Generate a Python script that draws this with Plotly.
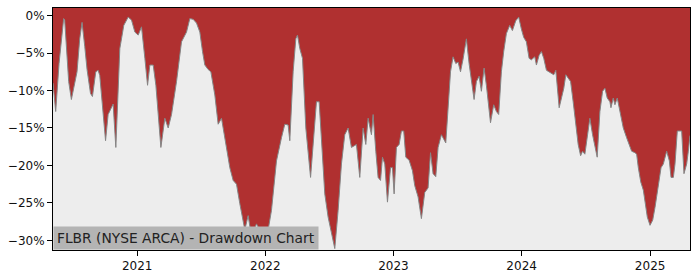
import pandas as pd
import plotly.graph_objects as go

# Decimal-year positions and drawdown values (%)
years = [
    2020.345, 2020.366, 2020.392, 2020.410, 2020.428, 2020.436, 2020.449, 2020.467, 2020.488, 2020.506,
    2020.532, 2020.553, 2020.571, 2020.592, 2020.610, 2020.637, 2020.652, 2020.678, 2020.696, 2020.709,
    2020.730, 2020.754, 2020.774, 2020.800, 2020.813, 2020.834, 2020.849, 2020.865, 2020.896, 2020.930,
    2020.956, 2020.982, 2021.008, 2021.034, 2021.060, 2021.081, 2021.099, 2021.125, 2021.146, 2021.177,
    2021.185, 2021.216, 2021.242, 2021.268, 2021.307, 2021.346, 2021.385, 2021.411, 2021.437, 2021.463,
    2021.489, 2021.510, 2021.528, 2021.554, 2021.575,
    2021.606, 2021.632, 2021.658, 2021.684, 2021.723, 2021.749, 2021.775, 2021.801, 2021.827, 2021.840,
    2021.866, 2021.892, 2021.931, 2021.970, 2021.996, 2022.022, 2022.048, 2022.087, 2022.126, 2022.152,
    2022.178, 2022.191, 2022.217, 2022.238, 2022.251, 2022.269, 2022.290, 2022.316, 2022.353, 2022.378,
    2022.399, 2022.420, 2022.438, 2022.464, 2022.490, 2022.524, 2022.542, 2022.568, 2022.594, 2022.620,
    2022.646, 2022.672, 2022.711, 2022.737, 2022.763, 2022.784, 2022.802, 2022.828, 2022.841,
    2022.862, 2022.880, 2022.899, 2022.914, 2022.932, 2022.953, 2022.977, 2022.992, 2023.005, 2023.023,
    2023.044, 2023.062, 2023.080, 2023.096, 2023.122, 2023.148, 2023.166, 2023.192, 2023.218, 2023.244,
    2023.270, 2023.289, 2023.309, 2023.330, 2023.348, 2023.374, 2023.408, 2023.426, 2023.445, 2023.465,
    2023.486, 2023.504, 2023.523, 2023.543, 2023.569, 2023.590, 2023.608, 2023.629, 2023.647, 2023.668,
    2023.686, 2023.707, 2023.725, 2023.738, 2023.757, 2023.782, 2023.803, 2023.821, 2023.842, 2023.860,
    2023.881, 2023.907, 2023.928, 2023.954, 2023.977, 2023.998, 2024.016, 2024.037, 2024.058, 2024.076,
    2024.102,
    2024.115, 2024.136, 2024.154, 2024.172, 2024.193, 2024.214, 2024.232, 2024.250, 2024.266, 2024.276,
    2024.292, 2024.310, 2024.328, 2024.344, 2024.362, 2024.381, 2024.401, 2024.422, 2024.440, 2024.459,
    2024.474, 2024.492, 2024.510, 2024.531, 2024.552, 2024.570, 2024.588, 2024.609, 2024.630, 2024.648,
    2024.666, 2024.687, 2024.695, 2024.713, 2024.726, 2024.744, 2024.765, 2024.791, 2024.817, 2024.838,
    2024.856, 2024.882, 2024.895, 2024.908, 2024.927, 2024.947, 2024.960, 2024.978, 2024.999, 2025.020,
    2025.038, 2025.064, 2025.085, 2025.103, 2025.129, 2025.150, 2025.163, 2025.181, 2025.194, 2025.212,
    2025.232, 2025.246, 2025.264, 2025.285, 2025.298, 2025.311,
]
drawdown = [
    -9.0, -12.8, -6.4, -3.1, -0.4, -0.6, -4.6, -8.8, -11.2, -9.5,
    -7.5, -3.1, -0.9, -4.1, -7.2, -10.4, -10.8, -7.5, -7.3, -8.0,
    -12.1, -16.7, -13.2, -12.3, -11.8, -17.6, -10.0, -4.4, -1.3, -0.2,
    -0.6, -2.2, -2.6, -1.5, -5.7, -9.3, -6.6, -6.6, -9.3, -15.9,
    -17.6, -13.7, -15.0, -13.2, -8.8, -3.5, -2.2, -0.4, -0.5, -1.0,
    -2.2, -4.8, -6.6, -7.2, -7.5,
    -10.6, -14.5, -13.7, -16.5, -20.3, -22.0, -22.5, -25.1, -27.3, -28.6,
    -26.7, -29.5, -27.8, -29.1, -30.6, -28.6, -26.0, -19.4, -16.3, -14.5,
    -14.6, -16.7, -7.5, -3.1, -2.6, -4.4, -5.7, -15.0, -21.6, -15.4,
    -11.5, -11.5, -17.2, -23.8, -26.9, -29.5, -31.1, -26.0, -19.8, -15.9,
    -15.0, -17.6, -17.2, -21.6, -15.0, -17.2, -13.7, -15.9, -13.2,
    -18.1, -21.6, -22.0, -18.9, -19.8, -24.9, -20.3, -20.3, -23.8, -17.6,
    -17.2, -15.4, -15.4, -18.9, -19.3, -20.7, -22.7, -24.2, -27.1, -23.6,
    -23.0, -18.3, -21.1, -21.5, -17.6, -15.9, -17.0, -12.8, -7.5, -5.5,
    -6.4, -6.2, -7.5, -5.8, -3.1, -6.4, -8.8, -11.2, -8.8, -8.1,
    -10.1, -7.0, -9.3, -11.5, -14.3, -11.9, -12.8, -13.2, -7.5, -4.8,
    -2.4, -1.3, -2.0, -0.7, -0.2, -1.8, -2.9, -3.5, -5.7, -5.9,
    -5.5,
    -6.6, -5.3, -4.8, -5.7, -7.3, -7.5, -7.7, -7.9, -7.3, -9.3,
    -12.3, -11.0, -9.7, -7.9, -8.4, -8.8, -11.5, -15.0, -17.2, -18.7,
    -18.1, -18.5, -16.3, -13.7, -15.9, -17.6, -18.9, -12.8, -10.1, -9.7,
    -11.0, -11.5, -12.3, -11.0, -11.9, -11.0, -12.8, -15.0, -16.3, -17.2,
    -18.1, -18.3, -18.5, -20.3, -22.2, -23.3, -25.1, -26.9, -28.0, -27.3,
    -25.6, -22.5, -20.3, -19.8, -18.1, -19.4, -21.6, -21.6, -19.8, -15.4,
    -15.4, -15.4, -21.1, -19.8, -18.1, -16.0,
]

y_ticks = [0, -5, -10, -15, -20, -25, -30]
y_tick_labels = ["0%", "\u22125%", "\u221210%", "\u221215%", "\u221220%", "\u221225%", "\u221230%"]
x_ticks = ["2021-01-01", "2022-01-01", "2023-01-01", "2024-01-01", "2025-01-01"]
x_tick_labels = ["2021", "2022", "2023", "2024", "2025"]
title_text = "FLBR (NYSE ARCA) - Drawdown Chart"

Y_MIN, Y_MAX = -31.29, 1.015


def yr_to_date(y):
    year = int(y)
    start = pd.Timestamp(year, 1, 1)
    end = pd.Timestamp(year + 1, 1, 1)
    return start + (end - start) * (y - year)


dates = [yr_to_date(y) for y in years]

fig = go.Figure()
fig.add_trace(go.Scatter(
    x=dates, y=[Y_MIN] * len(dates), mode="lines",
    line=dict(width=0, color="rgba(0,0,0,0)"), hoverinfo="skip", showlegend=False,
))
fig.add_trace(go.Scatter(
    x=dates, y=drawdown, mode="lines", fill="tonexty",
    fillcolor="#ededed", line=dict(color="#858585", width=1),
    showlegend=False,
))

fig.update_layout(
    width=700, height=280,
    margin=dict(l=53, r=10, t=7, b=28),
    paper_bgcolor="white",
    plot_bgcolor="#b03030",
    font=dict(family="DejaVu Sans", size=12, color="#111"),
    xaxis=dict(
        range=[dates[0], dates[-1]], tickvals=x_ticks, ticktext=x_tick_labels,
        showgrid=False, zeroline=False, ticks="outside", ticklen=5, tickwidth=1,
        tickcolor="black", showline=True, linecolor="black", linewidth=1, mirror=True,
    ),
    yaxis=dict(
        range=[Y_MIN, Y_MAX], tickvals=y_ticks, ticktext=y_tick_labels,
        showgrid=False, zeroline=False, ticks="outside", ticklen=5, tickwidth=1,
        tickcolor="black", showline=True, linecolor="black", linewidth=1, mirror=True,
    ),
    annotations=[dict(
        text=title_text, xref="paper", yref="paper", x=0, y=0,
        xanchor="left", yanchor="bottom", showarrow=False,
        font=dict(family="DejaVu Sans", size=13.8, color="#222"),
        bgcolor="#b4b4b4", borderpad=3,
    )],
)

fig.write_html("out.html")
